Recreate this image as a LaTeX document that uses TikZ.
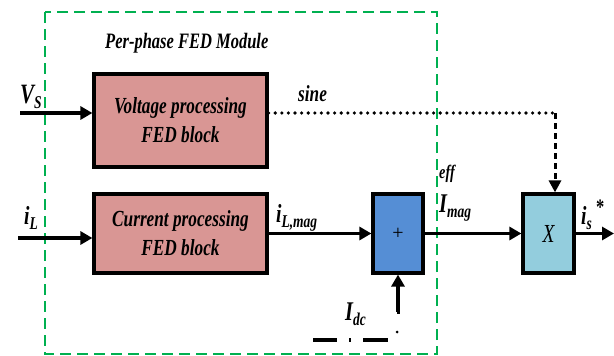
\documentclass[tikz,border=0pt]{standalone}
\usepackage{fontspec}
\setmainfont{Liberation Serif}
\newfontfamily\lbl[FakeStretch=0.75]{Liberation Serif}
\usetikzlibrary{arrows.meta}
\newcommand{\fsz}[1]{\fontsize{#1}{#1}\selectfont}
\newcommand{\subt}[3]{{\fsz{#1}#2}\raisebox{-5pt}{\fsz{18}#3}}
\definecolor{pinkblk}{HTML}{D99694}
\definecolor{plusblue}{HTML}{558ED5}
\definecolor{xcyan}{HTML}{93CDDD}
\definecolor{fedgreen}{HTML}{00B050}
\tikzset{
  lbltext/.style={font=\lbl\bfseries\itshape, inner sep=0pt, anchor=base west},
  blockbox/.style={draw=black, line width=3.2pt, inner sep=0pt, align=center, font=\lbl\bfseries\itshape\fsz{23}},
  sig/.style={line width=3.2pt, -{Triangle[length=12pt,width=13pt]}},
}
\begin{document}
\begin{tikzpicture}[x=1pt,y=-1pt]
\useasboundingbox (0,0) rectangle (614,356);
% module border
\draw[fedgreen, line width=2.6pt, dash pattern=on 11pt off 6pt] (45,12) rectangle (437,354);
\node[lbltext, font=\lbl\bfseries\itshape\fsz{22}] (title) at (105,48) {Per-phase FED Module};
% blocks
\node[blockbox, fill=pinkblk, minimum width=173pt, minimum height=93pt] (volt) at (180.5,120.5) {Voltage processing\\[6pt]FED block};
\node[blockbox, fill=pinkblk, minimum width=173pt, minimum height=79pt] (cur) at (180.5,233.5) {Current processing\\[6pt]FED block};
\node[blockbox, fill=plusblue, minimum width=50pt, minimum height=79pt, font=\fsz{20}] (plus) at (398,233.5) {+};
\node[blockbox, fill=xcyan, minimum width=51pt, minimum height=79pt, font=\lbl\itshape\fsz{26}] (mult) at (548.5,233.5) {X};
% inputs
\coordinate (vsin) at (20,113);
\coordinate (ilin) at (18,238);
\draw[sig] (vsin) -- (vsin -| volt.west);
\draw[sig] (ilin) -- (ilin -| cur.west);
\node[lbltext] (vslab) at (20,103) {\subt{28}{V}{S}};
\node[lbltext] (illab) at (24,224) {\subt{26}{i}{L}};
% sine path
\coordinate (sineend) at (555,113);
\draw[line width=3.6pt, line cap=round, dash pattern=on 0pt off 6.6pt] (vsin -| volt.east) -- (sineend);
\draw[line width=3pt, dash pattern=on 6pt off 4pt, -{Triangle[length=12pt,width=12pt]}] (sineend) -- (sineend |- mult.north);
\node[lbltext, font=\lbl\bfseries\itshape\fsz{23}] (sinelab) at (298,101) {sine};
% current path
\draw[sig] (cur.east) -- (plus.west);
\node[lbltext] (ilmag) at (276,222) {\subt{26}{i}{L,mag}};
\draw[sig] (plus.east) -- (mult.west);
\node[lbltext, font=\lbl\bfseries\itshape\fsz{19}] (efflab) at (439,178) {eff};
\node[lbltext] (imag) at (439,212) {\subt{27}{I}{mag}};
\coordinate (out) at (614,233.5);
\draw[sig] (mult.east) -- (out);
\node[lbltext] (islab) at (581,224) {\subt{26}{i}{s}};
\node[lbltext, font=\lbl\bfseries\fsz{22}] (star) at (596,214) {*};
% Idc
\coordinate (idcin) at (397,312);
\draw[sig] (idcin) -- (idcin -| plus.south) -- (plus.south);
\node[lbltext] (idclab) at (345,320) {\subt{27}{I}{dc}};
\coordinate (dl) at (313,340);
\coordinate (dr) at (390,340);
\draw[line width=3.5pt, dash pattern=on 24pt off 12pt on 2pt off 12pt on 25pt off 20pt] (dl) -- (dr);
\coordinate (ddot) at (397,332);
\fill (ddot) circle (1.5pt);
\end{tikzpicture}
\end{document}
